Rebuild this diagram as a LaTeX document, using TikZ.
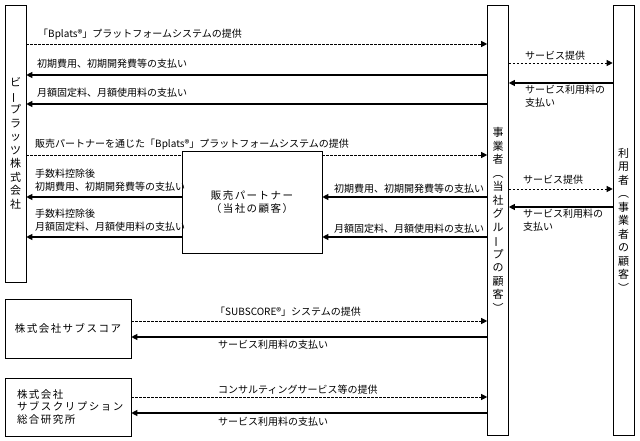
\documentclass[tikz,border=0pt]{standalone}
\usepackage{fontspec}
\usepackage{graphicx}
\setmainfont{Noto Sans CJK JP}
\newfontfamily\jpwide{Noto Sans CJK JP}[LetterSpace=14]
\usetikzlibrary{positioning, arrows.meta}

% long vowel mark set upright in vertical text
\newcommand{\vbar}{\rotatebox[origin=c]{90}{ー}}

\begin{document}
\begin{tikzpicture}[x=1pt, y=-1pt,
    col/.style={draw, line width=0.6pt, minimum width=21pt, inner sep=0pt, align=center, font=\fontsize{11}{13.5}\selectfont},
    org/.style={draw, line width=0.6pt, inner sep=0pt, font=\jpwide\fontsize{10.5}{12.6}\selectfont},
    prov/.style={line width=0.8pt, dash pattern=on 2.5pt off 1.5pt, -{Triangle[length=6pt, width=6pt]}},
    pay/.style={line width=1.1pt, -{Triangle[length=6pt, width=6pt]}},
    lbl/.style={anchor=west, inner sep=0pt, align=left, font=\fontsize{10}{13}\selectfont},
  ]
  \useasboundingbox (0,0) rectangle (640,441);

  % columns
  \node [col, minimum height=277pt] (bp) at (15.5,143.5)
    {ビ\\\vbar\\プ\\ラ\\ッ\\ツ\\株\\式\\会\\社};
  \node [col, minimum height=430pt] (biz) at (498,220)
    {事\\業\\者\\︵\\当\\社\\グ\\ル\\\vbar\\プ\\の\\顧\\客\\︶};
  \node [col, minimum height=430pt] (user) at (623.5,220)
    {利\\用\\者\\︵\\事\\業\\者\\の\\顧\\客\\︶};

  % boxes
  \node [org, minimum width=140pt, minimum height=102pt, align=center] (partner) at (252,202)
    {販売パートナー\\（当社の顧客）};
  \node [org, minimum width=126pt, minimum height=59pt] (sub) at (68,328.5) {株式会社サブスコア};
  \node [org, minimum width=126pt, minimum height=58pt, align=left, text width=102pt] (lab) at (68,407)
    {株式会社\\サブスクリプション\\総合研究所};

  % Bplats direct
  \draw [prov] (bp.east |- 0,44) -- (biz.west |- 0,44);
  \node [lbl] (t1) at (38,34) {「Bplats®」プラットフォームシステムの提供};
  \draw [pay] (biz.west |- 0,75) -- (bp.east |- 0,75);
  \node [lbl] (t2) at (37,64) {初期費用、初期開発費等の支払い};
  \draw [pay] (biz.west |- 0,104) -- (bp.east |- 0,104);
  \node [lbl] (t3) at (37,93) {月額固定料、月額使用料の支払い};

  % via sales partner
  \draw [line width=0.8pt, dash pattern=on 2.5pt off 1.5pt] (bp.east |- 0,155) -- (partner.west |- 0,155);
  \draw [prov] (partner.east |- 0,155) -- (biz.west |- 0,155);
  \node [lbl] (t4) at (35,144) {販売パートナーを通じた「Bplats®」プラットフォームシステムの提供};
  \draw [pay] (partner.west |- 0,197) -- (bp.east |- 0,197);
  \node [lbl] (t5) at (35,180.5) {手数料控除後\\初期費用、初期開発費等の支払い};
  \draw [pay] (partner.west |- 0,237) -- (bp.east |- 0,237);
  \node [lbl] (t6) at (35,220.5) {手数料控除後\\月額固定料、月額使用料の支払い};
  \draw [pay] (biz.west |- 0,197) -- (partner.east |- 0,197);
  \node [lbl] (t7) at (334,189) {初期費用、初期開発費等の支払い};
  \draw [pay] (biz.west |- 0,237) -- (partner.east |- 0,237);
  \node [lbl] (t8) at (334,229) {月額固定料、月額使用料の支払い};

  % users
  \draw [prov] (biz.east |- 0,63) -- (user.west |- 0,63);
  \node [lbl] (t9) at (525,56) {サービス提供};
  \draw [pay] (user.west |- 0,83) -- (biz.east |- 0,83);
  \node [lbl] (t10) at (525,96) {サービス利用料の\\支払い};
  \draw [prov] (biz.east |- 0,189) -- (user.west |- 0,189);
  \node [lbl] (t11) at (523,180) {サービス提供};
  \draw [pay] (user.west |- 0,207) -- (biz.east |- 0,207);
  \node [lbl] (t12) at (523,220) {サービス利用料の\\支払い};

  % group companies
  \draw [prov] (sub.east |- 0,321) -- (biz.west |- 0,321);
  \node [lbl] (t13) at (215,312) {「SUBSCORE®」システムの提供};
  \draw [pay] (biz.west |- 0,337) -- (sub.east |- 0,337);
  \node [lbl] (t14) at (218,345) {サービス利用料の支払い};
  \draw [prov] (lab.east |- 0,397) -- (biz.west |- 0,397);
  \node [lbl] (t15) at (218,390) {コンサルティングサービス等の提供};
  \draw [pay] (biz.west |- 0,413) -- (lab.east |- 0,413);
  \node [lbl] (t16) at (218,422) {サービス利用料の支払い};
\end{tikzpicture}
\end{document}
